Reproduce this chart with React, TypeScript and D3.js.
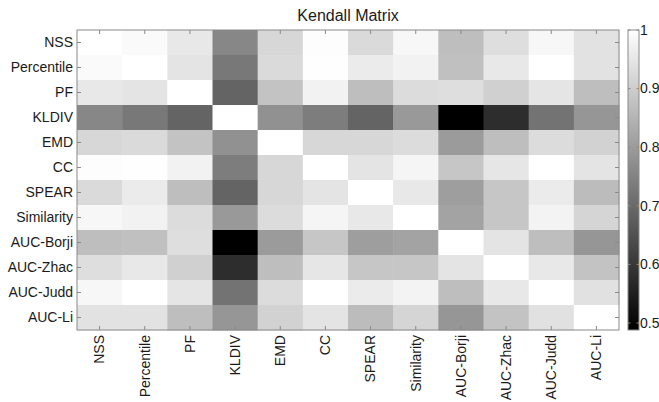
import React from "react";
import * as d3 from "d3";

const categories = [
  "NSS", "Percentile", "PF", "KLDIV", "EMD", "CC", "SPEAR", "Similarity",
  "AUC-Borji", "AUC-Zhac", "AUC-Judd", "AUC-Li",
];

const matrix: number[][] = [
  [1.000, 0.990, 0.954, 0.759, 0.920, 0.996, 0.926, 0.984, 0.870, 0.934, 0.984, 0.942],
  [0.990, 1.000, 0.946, 0.729, 0.926, 0.998, 0.960, 0.974, 0.874, 0.954, 1.000, 0.942],
  [0.954, 0.946, 1.000, 0.689, 0.880, 0.974, 0.870, 0.930, 0.934, 0.905, 0.948, 0.870],
  [0.759, 0.729, 0.689, 1.000, 0.779, 0.739, 0.689, 0.795, 0.488, 0.578, 0.719, 0.789],
  [0.920, 0.926, 0.880, 0.779, 1.000, 0.920, 0.920, 0.930, 0.799, 0.870, 0.930, 0.910],
  [0.996, 0.998, 0.974, 0.739, 0.920, 1.000, 0.946, 0.980, 0.886, 0.950, 1.000, 0.946],
  [0.926, 0.960, 0.870, 0.689, 0.920, 0.946, 1.000, 0.954, 0.805, 0.885, 0.960, 0.865],
  [0.984, 0.974, 0.930, 0.795, 0.930, 0.980, 0.954, 1.000, 0.815, 0.885, 0.976, 0.915],
  [0.870, 0.874, 0.934, 0.488, 0.799, 0.886, 0.805, 0.815, 1.000, 0.946, 0.870, 0.789],
  [0.934, 0.954, 0.905, 0.578, 0.870, 0.950, 0.885, 0.885, 0.946, 1.000, 0.954, 0.880],
  [0.984, 1.000, 0.948, 0.719, 0.930, 1.000, 0.960, 0.976, 0.870, 0.954, 1.000, 0.940],
  [0.942, 0.942, 0.870, 0.789, 0.910, 0.946, 0.865, 0.915, 0.789, 0.880, 0.940, 1.000],
];

const colorDomain: [number, number] = [0.488, 1.0];
const colorTicks = [0.5, 0.6, 0.7, 0.8, 0.9, 1];
const title = "Kendall Matrix";

const W = 659;
const H = 402;
const left = 77;
const right = 619;
const top = 30;
const bottom = 330;
const cbLeft = 628;
const cbRight = 639;
const font = "'Liberation Sans', Arial, Helvetica, sans-serif";
const textColor = "#1a1a1a";
const axisColor = "#8a8a8a";

export default function App() {
  const x = d3.scaleBand<string>().domain(categories).range([left, right]);
  const y = d3.scaleBand<string>().domain(categories).range([top, bottom]);
  const color = d3
    .scaleLinear<string>()
    .domain(colorDomain)
    .range(["#000000", "#ffffff"])
    .interpolate(d3.interpolateRgb)
    .clamp(true);
  const cbY = d3.scaleLinear().domain(colorDomain).range([bottom, top]);

  const cells: { r: string; c: string; v: number }[] = [];
  matrix.forEach((row, i) =>
    row.forEach((v, j) => cells.push({ r: categories[i], c: categories[j], v }))
  );

  const tl = 4;

  return (
    <svg
      width={W}
      height={H}
      style={{ position: "absolute", left: 0, top: 0, background: "#fff" }}
      fontFamily={font}
    >
      <defs>
        <linearGradient id="cbgrad" x1="0" y1="1" x2="0" y2="0">
          <stop offset="0%" stopColor={color(colorDomain[0])} />
          <stop offset="100%" stopColor={color(colorDomain[1])} />
        </linearGradient>
      </defs>
      <rect x={0} y={0} width={W} height={H} fill="#fff" />
      <text
        x={(left + right) / 2}
        y={21}
        textAnchor="middle"
        fontSize={16}
        fill={textColor}
      >
        {title}
      </text>
      {cells.map((d, k) => (
        <rect
          key={k}
          x={x(d.c)!}
          y={y(d.r)!}
          width={x.bandwidth() + 0.5}
          height={y.bandwidth() + 0.5}
          fill={color(d.v)}
        />
      ))}
      <rect
        x={left}
        y={top}
        width={right - left}
        height={bottom - top}
        fill="none"
        stroke={axisColor}
        strokeWidth={1}
      />
      {categories.map((c) => {
        const cy = y(c)! + y.bandwidth() / 2;
        const cx = x(c)! + x.bandwidth() / 2;
        return (
          <g key={c}>
            <line x1={left} x2={left + tl} y1={cy} y2={cy} stroke={axisColor} />
            <line x1={right} x2={right - tl} y1={cy} y2={cy} stroke={axisColor} />
            <line x1={cx} x2={cx} y1={bottom} y2={bottom - tl} stroke={axisColor} />
            <line x1={cx} x2={cx} y1={top} y2={top + tl} stroke={axisColor} />
            <text
              x={left - 4}
              y={cy}
              dy="0.35em"
              textAnchor="end"
              fontSize={14}
              fill={textColor}
            >
              {c}
            </text>
            <text
              transform={`translate(${cx},${bottom + 5}) rotate(-90)`}
              dy="0.35em"
              textAnchor="end"
              fontSize={14}
              fill={textColor}
            >
              {c}
            </text>
          </g>
        );
      })}
      <rect
        x={cbLeft}
        y={top}
        width={cbRight - cbLeft}
        height={bottom - top}
        fill="url(#cbgrad)"
        stroke={axisColor}
        strokeWidth={1}
      />
      {colorTicks.map((t) => (
        <g key={t}>
          <line x1={cbLeft} x2={cbLeft + 2.5} y1={cbY(t)} y2={cbY(t)} stroke={axisColor} />
          <line x1={cbRight} x2={cbRight - 2.5} y1={cbY(t)} y2={cbY(t)} stroke={axisColor} />
          <text
            x={cbRight + 1}
            y={cbY(t)}
            dy="0.35em"
            fontSize={14}
            fill={textColor}
          >
            {String(t)}
          </text>
        </g>
      ))}
    </svg>
  );
}
